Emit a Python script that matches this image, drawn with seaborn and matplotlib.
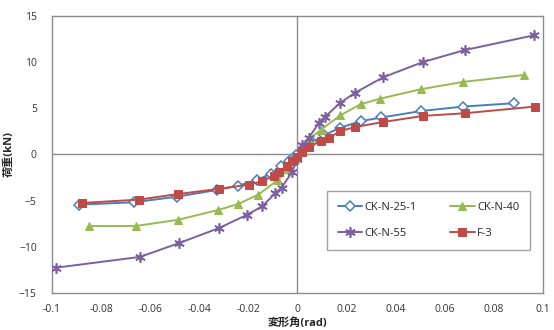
import pandas as pd
import matplotlib.pyplot as plt
import seaborn as sns
import numpy as np

# Values
names = ['CK-N-25-1', 'CK-N-40', 'CK-N-55', 'F-3']

ck25_x = [-0.089, -0.0667, -0.049, -0.0327, -0.0241, -0.0164, -0.011, -0.0069, -0.0035, -0.0005,
          0.003, 0.006, 0.011, 0.0175, 0.0257, 0.0342, 0.0504, 0.0675, 0.0881]
ck25_y = [-5.43, -5.18, -4.57, -3.84, -3.37, -2.75, -2.1, -1.3, -0.7, -0.1,
          0.7, 1.3, 2.1, 2.9, 3.6, 4.0, 4.7, 5.18, 5.54]

ck40_x = [-0.085, -0.066, -0.0486, -0.0323, -0.0241, -0.016, -0.0079, -0.004, -0.001,
          0.002, 0.005, 0.0094, 0.0175, 0.0257, 0.0338, 0.0505, 0.0675, 0.0922]
ck40_y = [-7.75, -7.75, -7.07, -6.01, -5.36, -4.35, -2.75, -1.6, -0.5,
          0.6, 1.7, 2.65, 4.24, 5.43, 6.05, 7.07, 7.85, 8.6]

ck55_x = [-0.0982, -0.0642, -0.0483, -0.032, -0.0205, -0.0143, -0.009, -0.0065, -0.0022, 0.0,
          0.002, 0.0046, 0.0087, 0.0111, 0.0175, 0.0236, 0.0349, 0.0511, 0.0682, 0.0965]
ck55_y = [-12.25, -11.09, -9.6, -7.97, -6.52, -5.6, -4.17, -3.6, -1.9, -0.5,
          1.0, 1.8, 3.4, 4.05, 5.6, 6.7, 8.35, 10.0, 11.3, 12.9]

f3_x = [-0.0879, -0.0646, -0.0486, -0.032, -0.0198, -0.0143, -0.0096, -0.0076, -0.0042, -0.0022,
        0.0, 0.0019, 0.0046, 0.0094, 0.0128, 0.0175, 0.0236, 0.0349, 0.0512, 0.0682, 0.0967]
f3_y = [-5.25, -4.89, -4.28, -3.73, -3.26, -2.9, -2.28, -1.92, -1.2, -0.76,
        -0.3, 0.25, 0.8, 1.45, 1.8, 2.54, 2.97, 3.51, 4.17, 4.46, 5.18]

x_ticks = [-0.1, -0.08, -0.06, -0.04, -0.02, 0, 0.02, 0.04, 0.06, 0.08, 0.1]
x_labels = ['-0.1', '-0.08', '-0.06', '-0.04', '-0.02', '0', '0.02', '0.04', '0.06', '0.08', '0.1']
y_ticks = [-15, -10, -5, 0, 5, 10, 15]

sns.set_style('white')
plt.rcParams['font.family'] = ['Open Sans', 'Noto Sans CJK JP', 'DejaVu Sans']

fig, ax = plt.subplots(figsize=(5.54, 3.30), dpi=100)
fig.subplots_adjust(left=0.094, right=0.980, bottom=0.112, top=0.952)

styles = [
    dict(color='#4A7EBB', marker='D', mfc='white', mec='#4A7EBB', ms=5, mew=1.1),
    dict(color='#98B954', marker='^', mfc='#98B954', mec='#98B954', ms=5.5),
    dict(color='#7D60A0', marker=(6, 2, 0), mfc='#7D60A0', mec='#7D60A0', ms=7.5, mew=1.2),
    dict(color='#BE4B48', marker='s', mfc='#BE4B48', mec='#BE4B48', ms=5.5),
]
series = [(ck25_x, ck25_y), (ck40_x, ck40_y), (ck55_x, ck55_y), (f3_x, f3_y)]

# zero lines
ax.axhline(0, color='#8c8c8c', lw=1, zorder=1)
ax.axvline(0, color='#8c8c8c', lw=1, zorder=1)

for name, (xs, ys), st in zip(names, series, styles):
    df = pd.DataFrame({'x': xs, 'y': ys})
    sns.lineplot(data=df, x='x', y='y', ax=ax, sort=False, estimator=None,
                 label=name, lw=1.4, zorder=3, **st)

ax.set_xlim(-0.1, 0.1)
ax.set_ylim(-15, 15)
ax.set_xticks(x_ticks)
ax.set_xticklabels(x_labels)
ax.set_yticks(y_ticks)
ax.tick_params(length=0, labelsize=7.5, colors='#333333')
ax.tick_params(axis='x', pad=8)
ax.tick_params(axis='y', pad=11)
for s in ax.spines.values():
    s.set_color('#8c8c8c')
    s.set_linewidth(1)

ax.set_xlabel('変形角(rad)', fontsize=8, fontweight='bold', labelpad=2)
ax.set_ylabel('荷重(kN)', fontsize=8, fontweight='bold', labelpad=3)

# legend is filled row by row in the reference
handles, labels = ax.get_legend_handles_labels()
order = [0, 2, 1, 3]
leg = ax.legend([handles[i] for i in order], [labels[i] for i in order],
                ncol=2, loc='center', bbox_to_anchor=(0.767, 0.262),
                fontsize=8, frameon=True, fancybox=False, edgecolor='#8c8c8c',
                handlelength=2.2, handletextpad=0.2, columnspacing=3.0,
                labelspacing=1.3, borderpad=1.0)
leg.get_frame().set_linewidth(1)

plt.savefig('out.png', dpi=100)
